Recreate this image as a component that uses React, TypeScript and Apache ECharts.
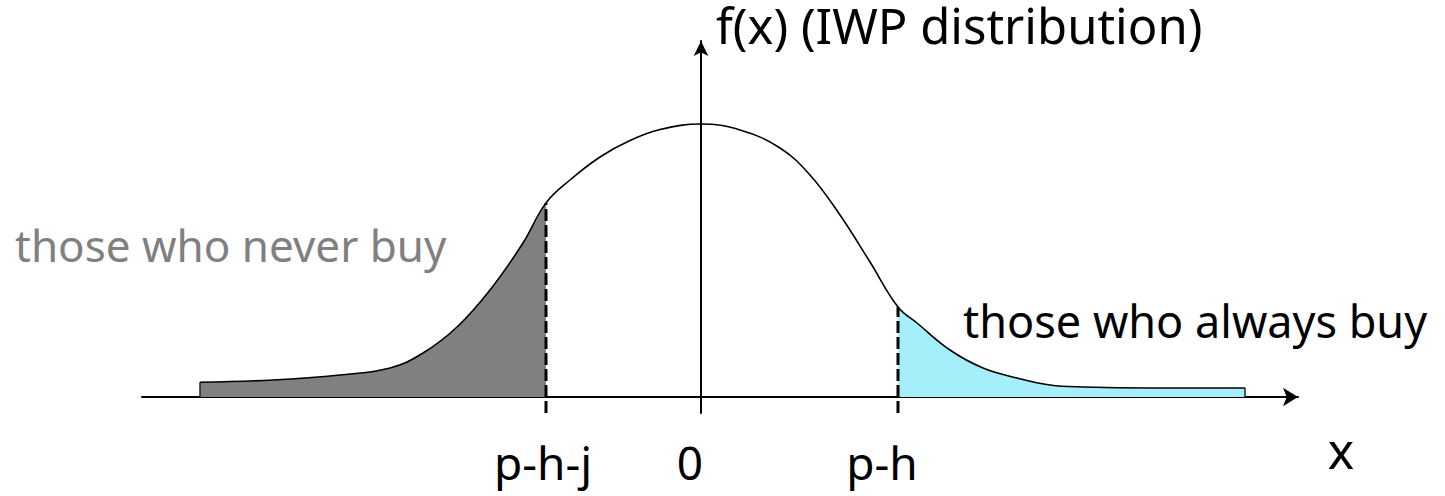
import React, { useEffect, useRef } from "react";
import * as echarts from "echarts";

// Curve f(x) (x: 0 at the vertical axis)
const curveX = [-5.01, -4.28, -3.61, -3.11, -2.78, -2.44, -2.11, -1.78, -1.55, -1.31, -1.01, -0.71, -0.41, 0, 0.39, 0.79, 1.09, 1.39, 1.69, 1.97, 2.16, 2.49, 2.82, 3.16, 3.49, 3.82, 4.49, 5.44];
const curveY = [0.147, 0.17, 0.22, 0.29, 0.44, 0.7, 1.07, 1.54, 1.94, 2.17, 2.4, 2.565, 2.675, 2.73, 2.67, 2.49, 2.22, 1.82, 1.35, 0.9, 0.74, 0.47, 0.29, 0.19, 0.12, 0.1, 0.09, 0.09];
// thresholds: p-h-j and p-h
const cutoffs = [-1.55, 1.97];
const tickLabels = ["p-h-j", "0", "p-h"];
const titleText = "f(x) (IWP distribution)";
const leftText = "those who never buy";
const rightText = "those who always buy";
const xAxisName = "x";

const FONT = "'Noto Sans', 'DejaVu Sans', sans-serif";

export default function App() {
  const ref = useRef<HTMLDivElement>(null);
  useEffect(() => {
    if (!ref.current) return;
    const chart = echarts.init(ref.current, null, { renderer: "svg" });
    const pts = curveX.map((x, i) => [x, curveY[i]]);
    const yAt = (x: number) => curveY[curveX.indexOf(x)];
    const leftPts = pts.filter((p) => p[0] <= cutoffs[0]);
    const rightPts = pts.filter((p) => p[0] >= cutoffs[1]);
    const yMin = -0.16;
    const first = pts[0];
    const last = pts[pts.length - 1];
    const dash = (x: number) => ({
      type: "line",
      data: [[x, yMin], [x, yAt(x)]],
      symbol: "none",
      lineStyle: { color: "#000", width: 3, type: [12, 4] },
      z: 5,
    });
    const edge = (p: number[]) => ({
      type: "line",
      data: [[p[0], 0], [p[0], p[1]]],
      symbol: "none",
      lineStyle: { color: "#222", width: 1.5 },
      z: 4,
    });
    const textStyle = (extra: any) => ({
      fontFamily: FONT,
      fill: "#000",
      ...extra,
    });
    chart.setOption({
      animation: false,
      backgroundColor: "#fff",
      grid: { left: 142, right: 147, top: 41, bottom: 83 },
      xAxis: {
        type: "value",
        min: -5.59,
        max: 5.97,
        splitLine: { show: false },
        axisTick: { show: false },
        axisLabel: { show: false },
        axisLine: {
          onZero: true,
          symbol: ["none", "arrow"],
          symbolSize: [14, 15],
          lineStyle: { color: "#000", width: 2 },
        },
      },
      yAxis: {
        type: "value",
        min: yMin,
        max: 3.56,
        splitLine: { show: false },
        axisTick: { show: false },
        axisLabel: { show: false },
        axisLine: {
          onZero: true,
          symbol: ["none", "arrow"],
          symbolSize: [11, 15],
          lineStyle: { color: "#000", width: 2 },
        },
      },
      series: [
        {
          type: "line",
          data: leftPts,
          smooth: 0.4,
          symbol: "none",
          lineStyle: { width: 0 },
          areaStyle: { color: "#808080", opacity: 1, origin: 0 },
          z: 2,
        },
        {
          type: "line",
          data: rightPts,
          smooth: 0.4,
          symbol: "none",
          lineStyle: { width: 0 },
          areaStyle: { color: "#a4effa", opacity: 1, origin: 0 },
          z: 2,
        },
        {
          type: "line",
          data: pts,
          smooth: 0.4,
          symbol: "none",
          lineStyle: { color: "#000", width: 1.6 },
          z: 4,
        },
        edge(first),
        edge(last),
        dash(cutoffs[0]),
        dash(cutoffs[1]),
      ],
      graphic: [
        { type: "text", left: 716, top: 0, style: textStyle({ text: titleText, fontSize: 49 }) },
        { type: "text", left: 15, top: 223, style: textStyle({ text: leftText, fontSize: 44, fill: "#808080" }) },
        { type: "text", left: 963, top: 298, style: textStyle({ text: rightText, fontSize: 45 }) },
        { type: "text", x: 543, y: 462, style: textStyle({ text: tickLabels[0], fontSize: 46, align: "center", verticalAlign: "middle" }) },
        { type: "text", x: 690, y: 462, style: textStyle({ text: tickLabels[1], fontSize: 46, align: "center", verticalAlign: "middle" }) },
        { type: "text", x: 882, y: 462, style: textStyle({ text: tickLabels[2], fontSize: 46, align: "center", verticalAlign: "middle" }) },
        { type: "text", x: 1341, y: 450, style: textStyle({ text: xAxisName, fontSize: 50, align: "center", verticalAlign: "middle" }) },
      ],
    });
    return () => chart.dispose();
  }, []);
  return (
    <div
      ref={ref}
      style={{ position: "absolute", left: 0, top: 0, width: 1445, height: 496 }}
    />
  );
}
